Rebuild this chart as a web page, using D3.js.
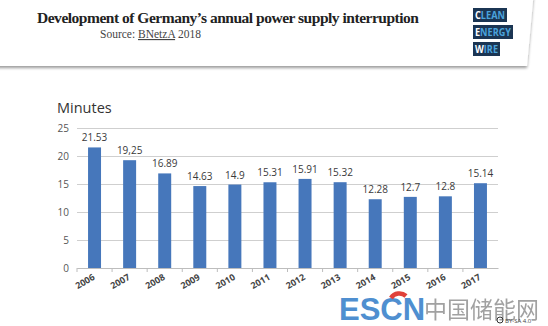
<!DOCTYPE html>
<html>
<head>
<meta charset="utf-8">
<script src="https://cdn.jsdelivr.net/npm/d3@7"></script>
<style>
  body { margin: 0; background: #fff; }
  svg { display: block; }
</style>
</head>
<body>
<div id="chart"></div>
<script>
var years = ["2006", "2007", "2008", "2009", "2010", "2011", "2012", "2013", "2014", "2015", "2016", "2017"];
var minutes = [21.53, 19.25, 16.89, 14.63, 14.9, 15.31, 15.91, 15.32, 12.28, 12.7, 12.8, 15.14];
var valueLabels = ["21.53", "19,25", "16.89", "14.63", "14.9", "15.31", "15.91", "15.32", "12.28", "12.7", "12.8", "15.14"];
var yTicks = [0, 5, 10, 15, 20, 25];

var width = 548, height = 326;
var svg = d3.select("#chart").append("svg")
    .attr("width", width)
    .attr("height", height);

// header card with soft shadow
var defs = svg.append("defs");
var blur = defs.append("filter").attr("id", "shadow")
    .attr("x", "-5%").attr("y", "-20%").attr("width", "110%").attr("height", "160%");
blur.append("feGaussianBlur").attr("in", "SourceAlpha").attr("stdDeviation", 1.4);
blur.append("feOffset").attr("dx", 0).attr("dy", 1.5).attr("result", "b");
blur.append("feComponentTransfer").append("feFuncA").attr("type", "linear").attr("slope", 0.4);
var merge = blur.append("feMerge");
merge.append("feMergeNode");
merge.append("feMergeNode").attr("in", "SourceGraphic");

svg.append("path")
    .attr("d", "M-10,-10 L534,-10 L527,66 L-10,66 Z")
    .attr("fill", "#fff")
    .attr("filter", "url(#shadow)");

svg.append("text")
    .attr("x", 37).attr("y", 23)
    .attr("textLength", 382)
    .style("font-family", "'Liberation Serif', 'DejaVu Serif', serif")
    .style("font-weight", "bold")
    .style("font-size", "15.5px")
    .style("fill", "#222")
    .text("Development of Germany\u2019s annual power supply interruption");

var src = svg.append("text")
    .attr("x", 100).attr("y", 38)
    .style("font-family", "'Liberation Serif', 'DejaVu Serif', serif")
    .style("font-size", "11.5px")
    .style("fill", "#444");
src.append("tspan").text("Source: ");
src.append("tspan").style("text-decoration", "underline").text("BNetzA");
src.append("tspan").text(" 2018");

// logo
var logo = [
    { first: "C", rest: "LEAN", y: 8, w: 34 },
    { first: "E", rest: "NERGY", y: 25, w: 40 },
    { first: "W", rest: "IRE", y: 42, w: 27 }
];
var lg = svg.append("g").selectAll("g").data(logo).enter().append("g");
lg.append("rect")
    .attr("x", 473).attr("y", function (d) { return d.y; })
    .attr("width", function (d) { return d.w; }).attr("height", 14)
    .attr("fill", "#1b3553");
var lt = lg.append("text")
    .attr("x", 475).attr("y", function (d) { return d.y + 10.5; })
    .attr("textLength", function (d) { return d.w - 4; })
    .attr("lengthAdjust", "spacingAndGlyphs")
    .style("font-family", "'Open Sans', sans-serif")
    .style("font-weight", "bold")
    .style("font-size", "10px");
lt.append("tspan").style("fill", "#fff").text(function (d) { return d.first; });
lt.append("tspan").style("fill", "#4aa3dc").text(function (d) { return d.rest; });

// chart
var margin = { top: 128, left: 77, right: 50, bottom: 58 };
var plotW = width - margin.left - margin.right,
    plotH = height - margin.top - margin.bottom;

var g = svg.append("g")
    .attr("transform", "translate(" + margin.left + "," + margin.top + ")");

var x = d3.scaleBand()
    .domain(years)
    .range([0, plotW])
    .paddingInner(0.63)
    .paddingOuter(0.315);

var y = d3.scaleLinear()
    .domain([0, 25])
    .range([plotH, 0]);

var yAxis = d3.axisLeft(y)
    .tickValues(yTicks)
    .tickSize(-plotW)
    .tickPadding(8);
var ya = g.append("g").call(yAxis);
ya.select(".domain").remove();
ya.selectAll(".tick line").attr("stroke", "#cfcfcf").attr("stroke-width", 1.2);
ya.selectAll(".tick text")
    .style("font-family", "'Open Sans', sans-serif")
    .style("font-size", "10px")
    .style("fill", "#555");

var xAxis = d3.axisBottom(x).tickSize(0).tickFormat("");
var xa = g.append("g")
    .attr("transform", "translate(0," + plotH + ")")
    .call(xAxis);
xa.select(".domain").attr("stroke", "#bdbdbd").attr("stroke-width", 1.2);

// small ticks between categories
var step = x.step();
g.append("g").selectAll("line")
    .data(years)
    .enter().append("line")
    .attr("x1", function (d) { return x(d) - (step - x.bandwidth()) / 2; })
    .attr("x2", function (d) { return x(d) - (step - x.bandwidth()) / 2; })
    .attr("y1", plotH).attr("y2", plotH + 4)
    .attr("stroke", "#bdbdbd");

g.selectAll(".bar")
    .data(minutes)
    .enter().append("rect")
    .attr("class", "bar")
    .attr("x", function (d, i) { return x(years[i]); })
    .attr("width", x.bandwidth())
    .attr("y", function (d) { return y(d); })
    .attr("height", function (d) { return plotH - y(d); })
    .attr("fill", "#4677bb");

g.selectAll(".vlabel")
    .data(minutes)
    .enter().append("text")
    .attr("class", "vlabel")
    .attr("x", function (d, i) { return x(years[i]) + x.bandwidth() / 2; })
    .attr("y", function (d) { return y(d) - 6; })
    .attr("text-anchor", "middle")
    .style("font-family", "'Open Sans', sans-serif")
    .style("font-size", "10px")
    .style("fill", "#3a3a3a")
    .text(function (d, i) { return valueLabels[i]; });

g.selectAll(".xlabel")
    .data(years)
    .enter().append("text")
    .attr("class", "xlabel")
    .attr("transform", function (d) {
        return "translate(" + (x(d) + x.bandwidth() / 2 + 1) + "," + (plotH + 11) + ") rotate(-30)";
    })
    .attr("text-anchor", "end")
    .style("font-family", "'Open Sans', sans-serif")
    .style("font-size", "9px")
    .style("font-weight", "bold")
    .style("fill", "#444")
    .text(function (d) { return d; });

svg.append("text")
    .attr("x", 57).attr("y", 113)
    .style("font-family", "'Open Sans', sans-serif")
    .style("font-size", "14.5px")
    .style("fill", "#333")
    .text("Minutes");

// watermark
var wm = svg.append("g");
wm.append("text")
    .attr("x", 339).attr("y", 320)
    .style("font-family", "'Liberation Sans', Arial, sans-serif")
    .style("font-weight", "bold")
    .style("font-size", "31px")
    .style("fill", "#4f8fd0")
    .text("ESCN");
wm.append("path")
    .attr("d", "M391,298 A10,10 0 0 1 406,296")
    .attr("fill", "none")
    .attr("stroke", "#e0413a")
    .attr("stroke-width", 4.5);
wm.append("text")
    .attr("x", 424).attr("y", 318)
    .style("font-family", "'Noto Sans CJK SC', sans-serif")
    .style("font-size", "23px")
    .style("fill", "#8a8a8a")
    .style("opacity", 0.8)
    .text("中国储能网");
wm.append("circle")
    .attr("cx", 500).attr("cy", 320).attr("r", 3)
    .attr("fill", "none").attr("stroke", "#333").attr("stroke-width", 1);
wm.append("text")
    .attr("x", 505).attr("y", 323)
    .style("font-family", "'Open Sans', sans-serif")
    .style("font-size", "6px")
    .style("fill", "#444")
    .text("BY-SA 4.0");
</script>
</body>
</html>
